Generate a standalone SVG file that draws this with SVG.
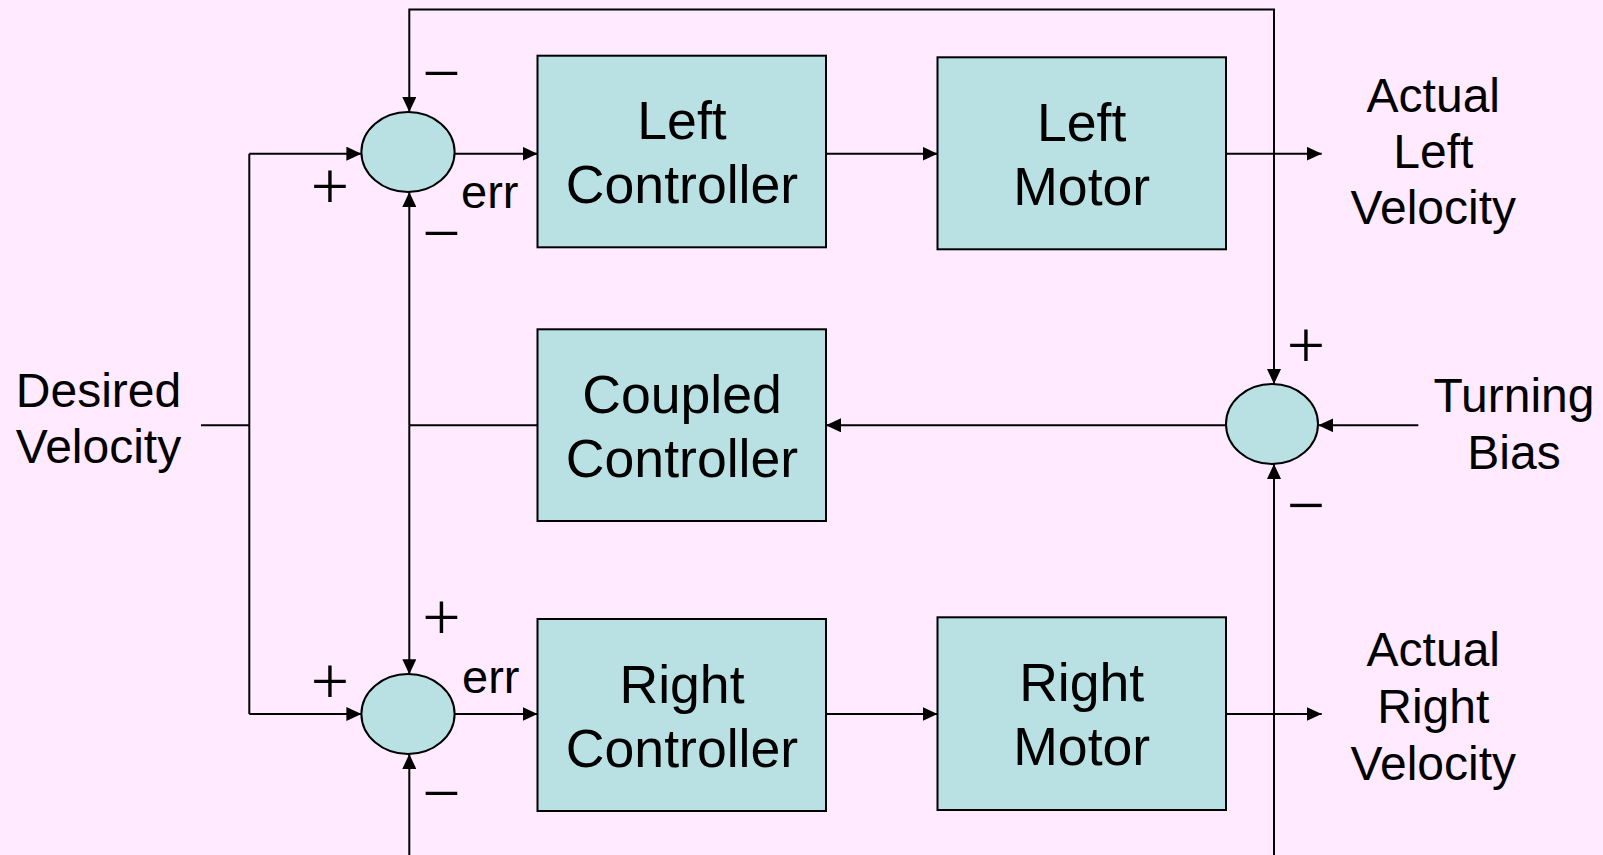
<svg xmlns="http://www.w3.org/2000/svg" width="1603" height="855" viewBox="0 0 1603 855">
<defs>
<style>
.box{fill:#B9E0E2;stroke:#000;stroke-width:2}
.sum{fill:#B9E0E2;stroke:#000;stroke-width:2}
.ln{fill:none;stroke:#000;stroke-width:2}
.bt{font-family:"Liberation Sans",Arial,sans-serif;font-size:53.6px;fill:#000;text-anchor:middle}
.lb{font-family:"Liberation Sans",Arial,sans-serif;font-size:48px;fill:#000;text-anchor:middle}
.err{font-family:"Liberation Sans",Arial,sans-serif;font-size:47px;fill:#000}
.sg{font-family:"Liberation Serif","Times New Roman",serif;font-size:68px;fill:#000;text-anchor:middle}
</style>
<marker id="ah" markerWidth="16" markerHeight="14" refX="15" refY="7" orient="auto" markerUnits="userSpaceOnUse"><path d="M0,0 L15,7 L0,14 z" fill="#000"/></marker>
</defs>
<rect x="0" y="0" width="1603" height="855" fill="#FFEAFF"/>
<g id="connectors">
<path class="ln" d="M201,425.3 H249.3"/>
<path class="ln" d="M249.3,153.7 V714"/>
<path class="ln" d="M249.3,153.7 H361.4" marker-end="url(#ah)"/>
<path class="ln" d="M249.3,714 H361.4" marker-end="url(#ah)"/>
<path class="ln" d="M454.6,153.7 H537.5" marker-end="url(#ah)"/>
<path class="ln" d="M826,153.7 H937.5" marker-end="url(#ah)"/>
<path class="ln" d="M1226,153.7 H1321.7" marker-end="url(#ah)"/>
<path class="ln" d="M454.6,714 H537.5" marker-end="url(#ah)"/>
<path class="ln" d="M826,714 H937.5" marker-end="url(#ah)"/>
<path class="ln" d="M1226,714 H1321.7" marker-end="url(#ah)"/>
<path class="ln" d="M1274,153.7 V9.5 H409.3 V112" marker-end="url(#ah)"/>
<path class="ln" d="M1274,153.7 V384" marker-end="url(#ah)"/>
<path class="ln" d="M1274,855 V464" marker-end="url(#ah)"/>
<path class="ln" d="M409.3,855 V754" marker-end="url(#ah)"/>
<path class="ln" d="M537.5,425.3 H409.3"/>
<path class="ln" d="M409.3,425.3 V192" marker-end="url(#ah)"/>
<path class="ln" d="M409.3,425.3 V674.3" marker-end="url(#ah)"/>
<path class="ln" d="M1226,425.3 H826" marker-end="url(#ah)"/>
<path class="ln" d="M1418.3,425.3 H1318.3" marker-end="url(#ah)"/>
</g>
<g id="sum-left">
<ellipse class="sum" cx="408" cy="152" rx="46.6" ry="40"/>
<text class="sg" x="441.5" y="96">−</text>
<text class="sg" x="330" y="209">+</text>
<text class="sg" x="441.5" y="256">−</text>
<text class="err" x="461" y="208">err</text>
</g>
<g id="sum-right">
<ellipse class="sum" cx="408" cy="714" rx="46.6" ry="40"/>
<text class="sg" x="441.5" y="640">+</text>
<text class="sg" x="330" y="704">+</text>
<text class="sg" x="441.5" y="816">−</text>
<text class="err" x="462" y="693">err</text>
</g>
<g id="sum-bias">
<ellipse class="sum" cx="1272" cy="424" rx="46" ry="40"/>
<text class="sg" x="1306" y="368">+</text>
<text class="sg" x="1306" y="528">−</text>
</g>
<g id="left-controller">
<rect class="box" x="537.5" y="55.7" width="288.5" height="191.6"/>
<text class="bt" x="682" y="139.3">Left</text>
<text class="bt" x="682" y="203.3">Controller</text>
</g>
<g id="left-motor">
<rect class="box" x="937.5" y="57.3" width="288.5" height="192"/>
<text class="bt" x="1081.7" y="141.1">Left</text>
<text class="bt" x="1081.7" y="205.1">Motor</text>
</g>
<g id="coupled-controller">
<rect class="box" x="537.5" y="329.3" width="288.5" height="191.7"/>
<text class="bt" x="682" y="412.8">Coupled</text>
<text class="bt" x="682" y="476.8">Controller</text>
</g>
<g id="right-controller">
<rect class="box" x="537.5" y="619" width="288.5" height="192"/>
<text class="bt" x="682" y="702.8">Right</text>
<text class="bt" x="682" y="766.8">Controller</text>
</g>
<g id="right-motor">
<rect class="box" x="937.5" y="617.3" width="288.5" height="192.7"/>
<text class="bt" x="1081.7" y="701.4">Right</text>
<text class="bt" x="1081.7" y="765.4">Motor</text>
</g>
<g id="desired-velocity">
<text class="lb" x="98.5" y="407.3">Desired</text>
<text class="lb" x="98.5" y="463.3">Velocity</text>
</g>
<g id="actual-left-velocity">
<text class="lb" x="1433.3" y="111.7">Actual</text>
<text class="lb" x="1433.3" y="168.3">Left</text>
<text class="lb" x="1433.3" y="224.3">Velocity</text>
</g>
<g id="actual-right-velocity">
<text class="lb" x="1433.3" y="666">Actual</text>
<text class="lb" x="1433.3" y="723.3">Right</text>
<text class="lb" x="1433.3" y="780">Velocity</text>
</g>
<g id="turning-bias">
<text class="lb" x="1514" y="411.7">Turning</text>
<text class="lb" x="1514" y="469.3">Bias</text>
</g>
</svg>
